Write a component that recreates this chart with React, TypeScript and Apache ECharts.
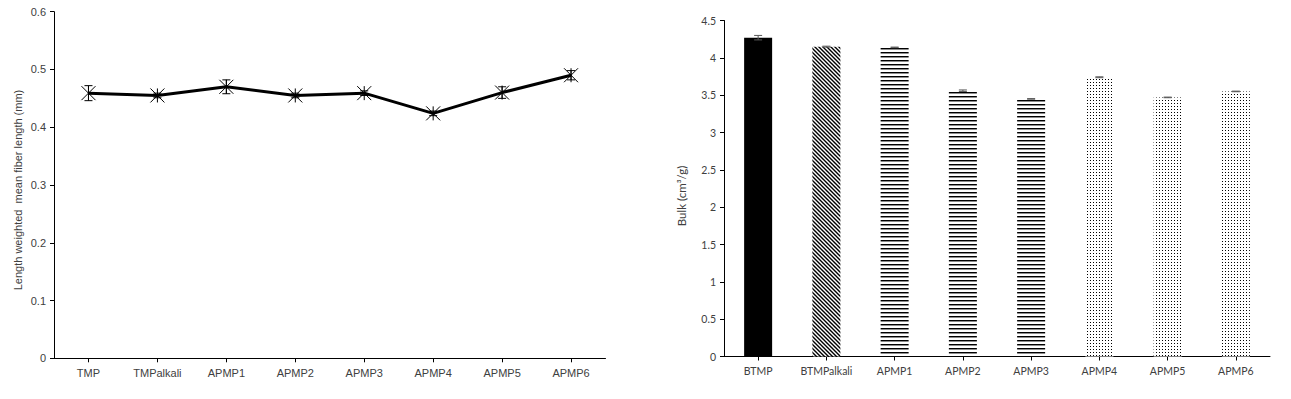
import React, { useEffect, useRef } from 'react';
import * as echarts from 'echarts';

const fiberCategories = ['TMP', 'TMPalkali', 'APMP1', 'APMP2', 'APMP3', 'APMP4', 'APMP5', 'APMP6'];
const fiberLength = [0.459, 0.455, 0.470, 0.455, 0.459, 0.424, 0.460, 0.490];
const fiberError = [0.013, 0.004, 0.012, 0.004, 0.004, 0.004, 0.010, 0.008];

const bulkCategories = ['BTMP', 'BTMPalkali', 'APMP1', 'APMP2', 'APMP3', 'APMP4', 'APMP5', 'APMP6'];
const bulkValues = [4.27, 4.15, 4.14, 3.56, 3.45, 3.74, 3.47, 3.55];
const bulkError = [0.03, 0.006, 0.004, 0.01, 0.004, 0.006, 0.004, 0.004];
const bulkFill = ['solid', 'diagonal', 'horizontal', 'horizontal', 'horizontal', 'dots', 'dots', 'dots'];

const fiberAxisTitle = 'Length weighted  mean fiber length (mm)';
const bulkAxisTitle = 'Bulk (cm\u00B3/g)';

function makeTile(kind: string): HTMLCanvasElement {
  const c = document.createElement('canvas');
  const size = kind === 'dots' ? 3 : 4;
  c.width = size;
  c.height = size;
  const ctx = c.getContext('2d')!;
  ctx.fillStyle = '#ffffff';
  ctx.fillRect(0, 0, size, size);
  ctx.fillStyle = '#000000';
  if (kind === 'horizontal') {
    ctx.fillRect(0, 0, size, 1);
    ctx.fillStyle = 'rgba(0,0,0,0.45)';
    ctx.fillRect(0, 1, size, 1);
  } else if (kind === 'diagonal') {
    ctx.strokeStyle = '#000000';
    ctx.lineWidth = 1.4;
    ctx.beginPath();
    ctx.moveTo(-1, -1); ctx.lineTo(5, 5);
    ctx.moveTo(-1, 3); ctx.lineTo(1, 5);
    ctx.moveTo(3, -1); ctx.lineTo(5, 1);
    ctx.stroke();
  } else if (kind === 'dots') {
    ctx.fillRect(1, 1, 1, 1);
  }
  return c;
}

function errorRender(color: string, hw: number) {
  return (params: any, api: any) => {
    const i = api.value(0);
    const lo = api.coord([i, api.value(1)]);
    const hi = api.coord([i, api.value(2)]);
    const style = { stroke: color, lineWidth: 1 };
    return {
      type: 'group',
      children: [
        { type: 'line', shape: { x1: lo[0], y1: lo[1], x2: hi[0], y2: hi[1] }, style },
        { type: 'line', shape: { x1: lo[0] - hw, y1: lo[1], x2: lo[0] + hw, y2: lo[1] }, style },
        { type: 'line', shape: { x1: hi[0] - hw, y1: hi[1], x2: hi[0] + hw, y2: hi[1] }, style },
      ],
    };
  };
}

export default function App() {
  const ref = useRef<HTMLDivElement>(null);

  useEffect(() => {
    document.body.style.margin = '0';
    if (!ref.current) return;
    const chart = echarts.init(ref.current, null, { renderer: 'svg' });

    const tiles: Record<string, HTMLCanvasElement> = {
      diagonal: makeTile('diagonal'),
      horizontal: makeTile('horizontal'),
      dots: makeTile('dots'),
    };
    const fillFor = (kind: string): any => {
      if (kind === 'solid') return '#000000';
      const t = tiles[kind];
      return { image: t, repeat: 'repeat', imageWidth: t.width, imageHeight: t.height };
    };

    const leftFont = { fontFamily: 'Liberation Sans', fontSize: 11, color: '#404040' };
    const rightFont = { fontFamily: 'Lato', fontSize: 10.5, color: '#404040' };
    const axisLine = { show: true, lineStyle: { color: '#000', width: 1 } };

    const option: any = {
      animation: false,
      backgroundColor: '#ffffff',
      grid: [
        { left: 54, right: 1291 - 605.5, top: 11.7, bottom: 399 - 358.3 },
        { left: 724, right: 21, top: 20.5, bottom: 399 - 356.5 },
      ],
      xAxis: [
        {
          type: 'category', gridIndex: 0, data: fiberCategories, boundaryGap: true,
          axisLine, axisTick: { show: true, alignWithLabel: true, interval: 0, length: 4, lineStyle: { color: '#000' } },
          axisLabel: { ...leftFont, margin: 9, interval: 0 },
        },
        {
          type: 'category', gridIndex: 1, data: bulkCategories, boundaryGap: true,
          axisLine, axisTick: { show: true, alignWithLabel: true, interval: 0, length: 4, lineStyle: { color: '#000' } },
          axisLabel: { ...rightFont, margin: 9, interval: 0 },
        },
      ],
      yAxis: [
        {
          type: 'value', gridIndex: 0, min: 0, max: 0.6, interval: 0.1,
          axisLine, axisTick: { show: true, length: 4, lineStyle: { color: '#000' } },
          splitLine: { show: false },
          axisLabel: { ...leftFont, margin: 8 },
        },
        {
          type: 'value', gridIndex: 1, min: 0, max: 4.5, interval: 0.5,
          axisLine, axisTick: { show: true, length: 4, lineStyle: { color: '#000' } },
          splitLine: { show: false },
          axisLabel: { ...rightFont, margin: 8 },
        },
      ],
      graphic: [
        {
          type: 'text', x: 18, y: 190, rotation: Math.PI / 2,
          style: { text: fiberAxisTitle, textAlign: 'center', textVerticalAlign: 'middle', font: '11px "Liberation Sans"', fill: '#404040' },
        },
        {
          type: 'text', x: 681, y: 196, rotation: Math.PI / 2,
          style: { text: bulkAxisTitle, textAlign: 'center', textVerticalAlign: 'middle', font: '11.5px Lato', fill: '#404040' },
        },
      ],
      series: [
        {
          type: 'line', xAxisIndex: 0, yAxisIndex: 0, data: fiberLength,
          symbol: 'path://M0,0L10,10M10,0L0,10M5,0L5,10', symbolSize: 14,
          lineStyle: { color: '#000', width: 3 },
          itemStyle: { color: '#000', borderColor: '#000', borderWidth: 1 },
          z: 3,
        },
        {
          type: 'custom', xAxisIndex: 0, yAxisIndex: 0,
          data: fiberLength.map((v, i) => [i, v - fiberError[i], v + fiberError[i]]),
          encode: { x: 0, y: [1, 2] },
          renderItem: errorRender('#000', 4),
          z: 4,
        },
        {
          type: 'bar', xAxisIndex: 1, yAxisIndex: 1, barWidth: 28,
          data: bulkValues.map((v, i) => ({ value: v, itemStyle: { color: fillFor(bulkFill[i]) } })),
        },
        {
          type: 'custom', xAxisIndex: 1, yAxisIndex: 1,
          data: bulkValues.map((v, i) => [i, v - bulkError[i], v + bulkError[i]]),
          encode: { x: 0, y: [1, 2] },
          renderItem: errorRender('#595959', 4),
          z: 4,
        },
      ],
    };
    chart.setOption(option);
    return () => chart.dispose();
  }, []);

  return <div ref={ref} style={{ width: 1291, height: 399 }} />;
}
